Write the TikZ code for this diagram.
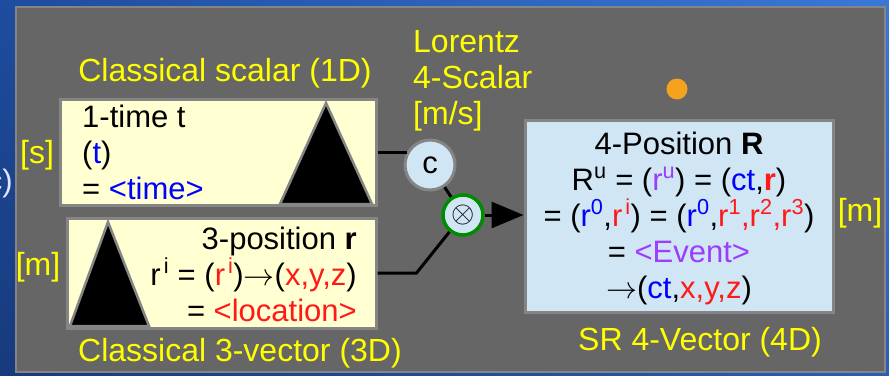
\documentclass[tikz,border=0pt]{standalone}
\usepackage{fix-cm}
\usepackage{fontspec}
\setmainfont{Liberation Sans}
\usetikzlibrary{arrows.meta,positioning,shadings}
\definecolor{bgul}{HTML}{1E4C9E}
\definecolor{bgur}{HTML}{3A78D8}
\definecolor{bgll}{HTML}{173A7C}
\definecolor{bglr}{HTML}{2A5EB4}
\definecolor{panel}{HTML}{666666}
\definecolor{rim}{HTML}{858585}
\definecolor{cream}{HTML}{FFFFD2}
\definecolor{sky}{HTML}{D0E6F4}
\definecolor{lbl}{HTML}{FFFF00}
\definecolor{tblue}{HTML}{0000FF}
\definecolor{tred}{HTML}{FF1A1A}
\definecolor{tviolet}{HTML}{9B3CFF}
\definecolor{dot}{HTML}{F5A21E}
\definecolor{opgreen}{HTML}{008C00}
\newcommand{\bl}[1]{\textcolor{tblue}{#1}}
\newcommand{\rd}[1]{\textcolor{tred}{#1}}
\newcommand{\vi}[1]{\textcolor{tviolet}{#1}}
\newcommand{\up}[1]{\textsuperscript{#1}}
\newcommand{\tto}{$\rightarrow$}

\begin{document}
\begin{tikzpicture}[
  x=1pt, y=-1pt, font=\fontsize{31}{36}\selectfont,
  cbox/.style={draw=rim, line width=3pt, fill=cream, inner sep=0pt},
  sbox/.style={draw=rim, line width=3pt, fill=sky, inner sep=0pt},
  txt/.style={inner sep=0pt, text=black},
  lbl/.style={inner sep=0pt, text=lbl, font=\fontsize{32}{36}\selectfont},
  wire/.style={line width=3pt, draw=black},
  tri/.style={fill=black, draw=rim, line width=2.5pt, line join=miter}
]
\useasboundingbox (0,0) rectangle (889,375);
% ---------------- backdrop
\shade[upper left=bgul, upper right=bgur, lower left=bgll, lower right=bglr] (0,0) rectangle (889,375);
\node[text=white!90!blue, inner sep=0pt, anchor=east] (cut) at (13,183) {c)};
\draw[draw=rim, fill=panel, line width=2pt] (16,7) rectangle (885,372);
% ---------------- classical boxes
\node[cbox, minimum width=316, minimum height=106] (scalar) at (218,152) {};
\draw[tri] (326,103) -- (372,204) -- (280,204) -- cycle;
\node[txt, anchor=west, align=left] (scalartxt) at (82,152) {1-time t\\(\bl{t})\\= \bl{<time>}};
\node[cbox, minimum width=309, minimum height=110] (vector) at (221.5,273) {};
\draw[tri] (108,222) -- (149,326) -- (70,326) -- cycle;
\node[txt, anchor=east, align=right] (vectortxt) at (357,274) {3-position \textbf{r}\\r\hspace{3pt}\up{i} = (\rd{r\hspace{3pt}\up{i}})\tto(\rd{x,y,z})\\= \rd{<location>}};
% ---------------- 4-vector box
\node[sbox, minimum width=308, minimum height=192] (fourvec) at (679,216) {};
\node[txt, align=center] (fourvectxt) at (679,218) {4-Position \textbf{R}\\R\up{u} = (\vi{r\up{u}}) = (\bl{ct},\rd{\textbf{r}})\\= (\bl{r\up{0}},\rd{r\hspace{3pt}\up{i}}) = (\bl{r\up{0}},\rd{r\up{1},r\up{2},r\up{3}})\\= \vi{<Event>}\\\tto(\bl{ct},\rd{x,y,z})};
\node[circle, fill=dot, minimum size=21, inner sep=0pt] (spot) at (677,89) {};
% ---------------- labels
\node[lbl] (scalarlbl) at (225,73) {Classical scalar (1D)};
\node[lbl] (vectorlbl) at (240,353) {Classical 3-vector (3D)};
\node[lbl] (fourveclbl) at (700,342) {SR 4-Vector (4D)};
\node[lbl, anchor=west, align=left] (lorentz) at (413,81) {Lorentz\\4-Scalar\\{[m/s]}};
\node[lbl] (unitS) at (37,155) {[s]};
\node[lbl] (unitM) at (38,267) {[m]};
\node[lbl] (unitR) at (860,213) {[m]};
% ---------------- operators
\node[circle, fill=sky, draw=rim, line width=3pt, minimum size=50, inner sep=0pt] (c) at (430,165) {c};
\node[circle, fill=sky, draw=opgreen, line width=3.5pt, minimum size=40, inner sep=0pt] (tensor) at (463,215) {\fontsize{30}{30}\selectfont$\otimes$};
% ---------------- wires
\draw[wire] (scalar.east) -- (scalar.east -| c.149);
\draw[wire] (c) -- (tensor);
\draw[wire] (vector.east) -- ++(39,0) coordinate (bend) -- (tensor);
\draw[wire, -{Triangle[length=32pt, width=26pt]}] (tensor) -- (tensor -| fourvec.west);
\end{tikzpicture}
\end{document}
